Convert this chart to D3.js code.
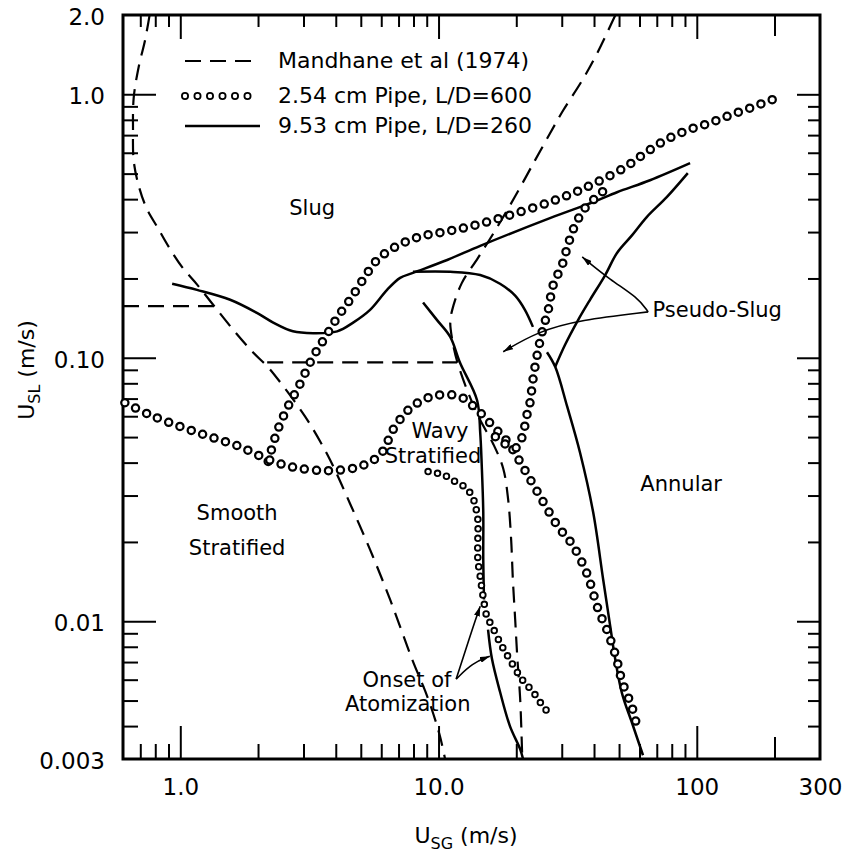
<!DOCTYPE html>
<html lang="en">
<head>
<meta charset="UTF-8">
<title>Flow regime map: USL vs USG</title>
<script src="https://d3js.org/d3.v7.min.js"></script>
<style>
  body { margin: 0; background: #fff; }
  svg { display: block; font-family: 'DejaVu Sans', sans-serif; }
  .frame { fill: none; stroke: #000; stroke-width: 3; }
  .axis path { display: none; }
  .axis line { stroke: #000; stroke-width: 2; }
  .axis text { font-size: 23px; fill: #000; font-family: 'DejaVu Sans', sans-serif; }
  .dashed { fill: none; stroke: #000; stroke-width: 2.2; stroke-dasharray: 16 9; }
  .solid { fill: none; stroke: #000; stroke-width: 2.5; }
  .ring-out { fill: none; stroke: #000; stroke-linecap: round; }
  .ring-in { fill: none; stroke: #fff; stroke-linecap: round; }
  .label { font-size: 21px; fill: #000; }
  .title { font-size: 22px; fill: #000; }
  .arrow { fill: none; stroke: #000; stroke-width: 1.6; }
</style>
</head>
<body>
<div id="chart"></div>
<script>
// axis setup
const xDomain = [0.6, 300];
const yDomain = [0.003, 2.0];
const xLabelVals = [1, 10, 100, 300];
const xLabels = ["1.0", "10.0", "100", "300"];
const yLabelVals = [2.0, 1.0, 0.1, 0.01, 0.003];
const yLabels = ["2.0", "1.0", "0.10", "0.01", "0.003"];
const xMajor = [1, 10, 100];
const xMinor = [0.7, 0.8, 0.9, 2, 3, 4, 5, 6, 7, 8, 9, 20, 30, 40, 50, 60, 70, 80, 90];
const xMid = [200];
const yMajor = [1, 0.1, 0.01];
const yMinor = [0.9, 0.8, 0.7, 0.6, 0.5, 0.4, 0.3, 0.2,
                0.09, 0.08, 0.07, 0.06, 0.05, 0.04, 0.03, 0.02,
                0.009, 0.008, 0.007, 0.006, 0.005, 0.004];

// Mandhane et al (1974) boundaries  [USG, USL]
const mandhaneLeft = [[0.76,1.99],[0.73,1.6],[0.69,1.27],[0.66,0.97],[0.656,0.73],[0.66,0.56],[0.69,0.45],
  [0.74,0.37],[0.82,0.31],[0.91,0.26],[1.02,0.22],[1.16,0.19],[1.34,0.159],[1.6,0.128],[1.91,0.105],
  [2.19,0.092],[2.48,0.079],[2.78,0.068],[3.18,0.056],[3.8,0.041],[4.54,0.028],[5.43,0.0187],
  [6.49,0.0121],[7.89,0.0072],[9.1,0.0051],[10.1,0.0037],[10.6,0.003]];
const mandhaneSlug = [[0.6,0.157],[1.36,0.157]];
const mandhaneWavy = [[2.17,0.096],[11.8,0.096]];
const mandhaneRight = [[48.3,1.99],[41.1,1.43],[36,1.13],[30.4,0.87],[27,0.71],[23.6,0.56],[19.8,0.41],
  [16.6,0.305],[14.2,0.239],[12.3,0.192],[11.3,0.152],[11.1,0.136],[11.3,0.117],[11.8,0.097],[13,0.074],
  [14.5,0.058],[16.3,0.047],[17.8,0.038],[18.6,0.029],[19.1,0.0205],[19.4,0.0144],[19.8,0.0102],
  [20.2,0.0072],[20.7,0.0051],[21.1,0.003]];

// 9.53 cm pipe, L/D=260
const big1 = [[0.93,0.191],[1.16,0.181],[1.56,0.166],[1.98,0.148],[2.29,0.136],[2.73,0.126],[3.27,0.124],
  [4.05,0.126],[4.67,0.136],[5.43,0.152],[6.32,0.181],[7.1,0.201],[7.96,0.21],[10.8,0.235],[14.5,0.266],
  [27,0.339],[39.7,0.39],[49.1,0.425],[65.9,0.472],[94.2,0.548]];
const big2 = [[7.96,0.212],[11.1,0.212],[14.5,0.206],[17.3,0.191],[19.8,0.172],[21.6,0.152],[23.2,0.131]];
const big3 = [[8.71,0.162],[9.87,0.139],[11.1,0.12],[12.1,0.096],[14.1,0.069],[14.5,0.052],[14.7,0.039],
  [14.9,0.026],[14.9,0.0172],[15.0,0.0121]];
const bigAtom = [[15.55,0.0093],[16.1,0.0072],[17.3,0.0054],[18.9,0.004],[20.7,0.00327],[21.25,0.003]];
const bigAnnular = [[26.3,0.105],[28.3,0.0924],[31.5,0.0652],[35.3,0.0437],[39.7,0.0259],[43.4,0.0144],
  [46.2,0.0096],[48.3,0.0072],[51.4,0.0053],[56.2,0.0041],[61.9,0.0031]];
const bigPseudo = [[28.3,0.0924],[30.9,0.112],[34.7,0.139],[38.6,0.166],[44.2,0.206],[49.1,0.25],
  [56.2,0.292],[64,0.342],[76.5,0.407],[92.3,0.502]];

// 2.54 cm pipe, L/D=600
const small1 = [[2.19,0.0404],[2.37,0.0524],[2.61,0.0652],[2.86,0.077],[3.27,0.101],[3.63,0.119],
  [4.05,0.142],[4.54,0.166],[5.1,0.198],[5.78,0.235],[6.78,0.263],[8.33,0.287],[10.4,0.3],[12.9,0.313],
  [17.3,0.339],[27,0.39],[33.8,0.425],[41.1,0.464],[52.8,0.529],[63.1,0.598],[75.4,0.669],[91.7,0.73],
  [111.6,0.777],[134.6,0.833],[163.8,0.893],[197.5,0.957]];
const small2 = [[0.61,0.0675],[0.76,0.0608],[1.0,0.0548],[1.3,0.0502],[1.7,0.046],[2.19,0.0411],
  [2.78,0.0383],[3.8,0.0373],[4.97,0.0387],[5.94,0.0429],[6.78,0.0548],[7.9,0.0652],[9.69,0.0718],
  [12.1,0.0712],[14.1,0.0635],[16.3,0.0548],[18.6,0.0476],[21.3,0.0383],[24.7,0.0298],[29,0.0229],
  [32.9,0.0196],[37.6,0.0151],[41.5,0.0111],[45,0.0092],[48.7,0.0073],[51.4,0.0059],[56.2,0.0047],
  [59.3,0.0038]];
const small3 = [[16.6,0.0502],[18.6,0.0464],[20.1,0.0456],[21.1,0.0502],[22,0.0608],[22.6,0.0675],
  [23.2,0.0825],[24.1,0.1026],[25.2,0.1255],[26.6,0.152],[27.8,0.189],[30.1,0.225],[31.7,0.268],
  [33.8,0.319],[36.9,0.37],[39.7,0.397],[43,0.425],[45.4,0.46]];
const smallAtom = [[9.11,0.037],[9.95,0.0364],[10.8,0.0354],[11.6,0.0339],[12.7,0.0322],[13.5,0.0298],
  [13.9,0.0273],[14.2,0.0243],[14.2,0.0205],[14.2,0.0172],[14.5,0.0148],[14.9,0.0123],[15.4,0.0104],
  [16.1,0.0096],[17.3,0.0083],[18.8,0.0072],[21.1,0.006],[23.2,0.0054],[25.2,0.0048],[26.6,0.0045]];

// annotations [USG, USL]
const regionLabels = [
  { text: "Slug", at: [3.24, 0.348] },
  { text: "Smooth", at: [1.66, 0.0243] },
  { text: "Stratified", at: [1.66, 0.0178] },
  { text: "Wavy", at: [10.13, 0.0498] },
  { text: "Stratified", at: [9.52, 0.04] },
  { text: "Annular", at: [87, 0.0311] },
  { text: "Onset of", at: [7.55, 0.00562] },
  { text: "Atomization", at: [7.6, 0.00456] }
];
const pseudoLabel = { text: "Pseudo-Slug", at: [67.4, 0.143] };
const pointers = [
  [[64.8,0.1493],[59.3,0.1688],[46.2,0.1975],[36,0.2413]],
  [[64.8,0.1493],[35.3,0.1393],[24.1,0.1255],[17.8,0.1054]],
  [[11.7,0.00603],[12.4,0.00718],[13.5,0.00932],[14.5,0.0114]],
  [[11.7,0.00603],[13.5,0.00693],[15.8,0.00737]]
];
const legendItems = [
  { text: "Mandhane et al (1974)", style: "dashed" },
  { text: "2.54 cm Pipe, L/D=600", style: "rings" },
  { text: "9.53 cm Pipe, L/D=260", style: "solid" }
];

const W = 854, H = 861;
const mLeft = 123, mRight = 820, mTop = 15, mBottom = 759;

const svg = d3.select("#chart").append("svg")
  .attr("width", W).attr("height", H);

const x = d3.scaleLog().domain(xDomain).range([mLeft, mRight]);
const y = d3.scaleLog().domain(yDomain).range([mBottom, mTop]);

// ticks on all four sides, pointing inwards
function ticks(axisFn, scale, vals, size, pos, fmt) {
  const a = axisFn(scale).tickValues(vals).tickSize(size).tickSizeOuter(0).tickPadding(10);
  a.tickFormat(fmt || (() => ""));
  return svg.append("g").attr("class", "axis").attr("transform", pos).call(a);
}
ticks(d3.axisBottom, x, xMajor, -33, `translate(0,${mBottom})`);
ticks(d3.axisBottom, x, xMinor, -15, `translate(0,${mBottom})`);
ticks(d3.axisBottom, x, xMid, -22, `translate(0,${mBottom})`);
ticks(d3.axisTop, x, xMajor, -24, `translate(0,${mTop})`);
ticks(d3.axisTop, x, xMinor, -12, `translate(0,${mTop})`);
ticks(d3.axisTop, x, xMid, -21, `translate(0,${mTop})`);
ticks(d3.axisLeft, y, yMajor, -33, `translate(${mLeft},0)`);
ticks(d3.axisLeft, y, yMinor, -15, `translate(${mLeft},0)`);
ticks(d3.axisRight, y, yMajor, -23, `translate(${mRight},0)`);
ticks(d3.axisRight, y, yMinor, -12, `translate(${mRight},0)`);

// tick labels
ticks(d3.axisBottom, x, xLabelVals, 0, `translate(0,${mBottom})`, (d, i) => xLabels[i])
  .selectAll("text").attr("y", 20);
ticks(d3.axisLeft, y, yLabelVals, 0, `translate(${mLeft},0)`, (d, i) => yLabels[i])
  .selectAll("text").attr("x", -18).attr("dy", "0.42em");

svg.append("rect").attr("class", "frame")
  .attr("x", mLeft).attr("y", mTop)
  .attr("width", mRight - mLeft).attr("height", mBottom - mTop);

// axis titles
const xt = svg.append("text").attr("class", "title").attr("x", 466).attr("y", 843)
  .attr("text-anchor", "middle");
xt.append("tspan").text("U");
xt.append("tspan").attr("dy", 6).attr("font-size", 16).text("SG");
xt.append("tspan").attr("dy", -6).text(" (m/s)");

const yt = svg.append("text").attr("class", "title")
  .attr("transform", "translate(34,370) rotate(-90)").attr("text-anchor", "middle");
yt.append("tspan").text("U");
yt.append("tspan").attr("dy", 6).attr("font-size", 16).text("SL");
yt.append("tspan").attr("dy", -6).text(" (m/s)");

const line = d3.line().x(d => x(d[0])).y(d => y(d[1])).curve(d3.curveCatmullRom.alpha(0.5));

const plot = svg.append("g");

[mandhaneLeft, mandhaneSlug, mandhaneWavy, mandhaneRight].forEach(c =>
  plot.append("path").attr("class", "dashed").attr("d", line(c)));

[big1, big2, big3, bigAtom, bigAnnular, bigPseudo].forEach(c =>
  plot.append("path").attr("class", "solid").attr("d", line(c)));

function rings(g, d, outer, inner, gap) {
  g.append("path").attr("class", "ring-out").attr("d", d)
    .attr("stroke-width", outer).attr("stroke-dasharray", `0 ${gap}`);
  g.append("path").attr("class", "ring-in").attr("d", d)
    .attr("stroke-width", inner).attr("stroke-dasharray", `0 ${gap}`);
}
[small1, small2, small3].forEach(c => rings(plot, line(c), 9.5, 5, 12));
rings(plot, line(smallAtom), 7.5, 3.8, 9.5);

// pointers
svg.append("defs").append("marker")
  .attr("id", "head").attr("viewBox", "0 0 10 6").attr("refX", 10).attr("refY", 3)
  .attr("markerWidth", 10).attr("markerHeight", 6).attr("markerUnits", "userSpaceOnUse")
  .attr("orient", "auto")
  .append("path").attr("d", "M0,0L10,3L0,6Z").attr("fill", "#000");

const curvy = d3.line().x(d => x(d[0])).y(d => y(d[1])).curve(d3.curveBasis);
pointers.forEach(p =>
  svg.append("path").attr("class", "arrow").attr("d", curvy(p)).attr("marker-end", "url(#head)"));

// labels
svg.selectAll(".region").data(regionLabels).enter().append("text")
  .attr("class", "label region").attr("text-anchor", "middle")
  .attr("x", d => x(d.at[0])).attr("y", d => y(d.at[1])).text(d => d.text);
svg.append("text").attr("class", "label")
  .attr("x", x(pseudoLabel.at[0])).attr("y", y(pseudoLabel.at[1])).text(pseudoLabel.text);

// legend
const lg = svg.append("g").attr("transform", "translate(185,61)");
legendItems.forEach((d, i) => {
  const yy = i === 0 ? 0 : (i === 1 ? 35 : 65);
  const seg = `M0,${yy}L75,${yy}`;
  if (d.style === "dashed") lg.append("path").attr("class", "dashed").attr("d", seg).attr("stroke-dasharray", "15 8");
  else if (d.style === "solid") lg.append("path").attr("class", "solid").attr("d", seg);
  else rings(lg, seg, 8, 4.4, 12.5);
  lg.append("text").attr("class", "label").attr("x", 93).attr("y", yy + 7)
    .style("font-size", "22px").text(d.text);
});
</script>
</body>
</html>
